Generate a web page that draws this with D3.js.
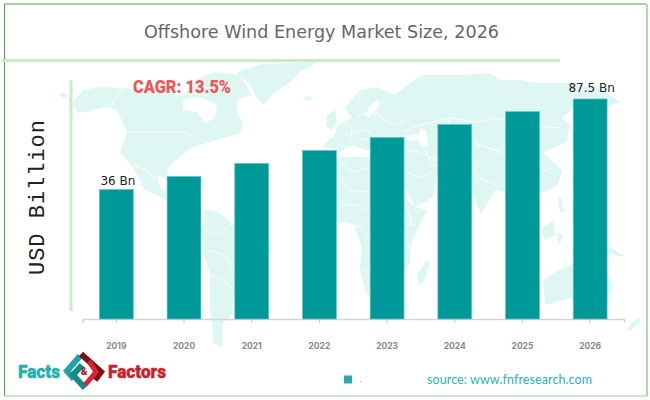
<!DOCTYPE html>
<html>
<head>
<meta charset="utf-8">
<script src="https://cdn.jsdelivr.net/npm/d3@7"></script>
<style>
  body { margin: 0; background: #fff; }
</style>
</head>
<body>
<div id="chart"></div>
<script>
// chart data
const years = ["2019", "2020", "2021", "2022", "2023", "2024", "2025", "2026"];
const marketSize = [36, 43.4, 50.8, 58.2, 65.6, 73, 80.3, 87.5];
const labelled = { "2019": "36 Bn", "2026": "87.5 Bn" };
const labelGap = { "2019": 4.5, "2026": 7 };

// background world map, rough outlines traced in picture pixels (decoration only)
const mapLand = [
  // north america
  [[72,103],[83,90],[100,87],[123,88],[150,90],[183,96],[195,80],[215,72],[240,75],[252,95],[237,100],[237,112],[243,125],[240,133],[223,138],[200,145],[193,147],[173,162],[167,170],[170,185],[165,178],[157,175],[160,188],[172,195],[200,208],[167,200],[145,190],[133,167],[120,152],[127,133],[118,112],[108,107],[78,113]],
  [[59,95],[64,92],[68,96],[63,98]],
  // greenland
  [[237,72],[262,64],[317,62],[300,72],[290,82],[275,92],[263,105],[255,95],[250,85]],
  [[302,98],[308,96],[314,98],[308,101]],
  // south america
  [[205,210],[218,212],[230,222],[250,232],[272,248],[268,258],[250,272],[240,290],[233,300],[232,313],[223,323],[222,347],[213,343],[212,325],[210,307],[210,273],[202,250],[202,228]],
  // eurasia
  [[322,146],[335,135],[338,125],[352,118],[345,108],[360,90],[377,87],[395,95],[417,78],[423,75],[457,75],[490,73],[500,80],[520,80],[537,83],[567,83],[600,88],[620,102],[607,107],[573,108],[562,118],[570,125],[567,142],[553,148],[543,152],[553,162],[562,170],[558,185],[545,192],[525,195],[515,215],[505,192],[495,190],[481,214],[471,190],[462,172],[448,168],[437,178],[432,198],[415,207],[395,165],[385,150],[365,150],[352,145],[340,152]],
  // britain
  [[327,115],[335,110],[337,122],[332,130],[326,126]],
  // africa
  [[320,165],[340,157],[365,157],[390,167],[407,200],[415,207],[427,210],[412,240],[410,262],[395,285],[372,297],[366,293],[360,270],[362,247],[353,224],[337,222],[322,205],[318,185]],
  // madagascar
  [[427,260],[430,264],[424,282],[418,285],[417,275]],
  // australia
  [[543,280],[555,272],[572,264],[590,262],[605,270],[613,285],[607,302],[585,306],[570,298],[545,305]],
  // islands
  [[541,228],[553,221],[555,235],[545,240]],
  [[558,232],[563,236],[560,244],[557,240]],
  [[558,197],[561,197],[563,208],[566,212],[560,212]],
  [[607,246],[615,250],[625,256],[618,256],[607,253]],
  [[627,328],[632,322],[640,318],[641,322],[630,331]],
  [[510,232],[524,248],[520,250],[507,236]],
];
const mapHoles = [
  // hudson bay
  [[183,100],[200,97],[217,104],[215,118],[205,123],[197,112],[183,110]],
  // baltic
  [[371,105],[378,100],[380,104],[374,112],[368,118],[365,114]],
  // caspian
  [[420,128],[426,130],[428,146],[422,148],[418,140]],
  // black sea
  [[405,136],[418,134],[420,140],[408,141]],
];
const mapBorders = [
  [[127,132],[185,132],[195,140]],
  [[110,107],[123,88]],
  [[110,107],[120,115]],
  [[133,165],[145,170],[155,178]],
  [[205,230],[218,235],[232,224]],
  [[210,250],[225,255],[232,270]],
  [[210,275],[222,280],[235,290]],
  [[345,135],[360,130],[372,132]],
  [[355,118],[372,110],[385,120],[395,125],[405,120]],
  [[360,140],[375,138],[390,142]],
  [[403,132],[420,125],[450,118],[475,122],[495,118],[520,125],[560,128]],
  [[405,150],[420,152],[435,160],[450,162],[470,165]],
  [[450,118],[445,132],[465,140],[495,150],[520,160]],
  [[339,175],[350,190],[368,192]],
  [[340,205],[358,205],[372,215]],
  [[403,195],[412,225]],
  [[362,270],[372,270]],
  [[405,225],[415,225]],
  [[357,100],[365,85]],
  [[340,120],[352,128],[350,142]],
  [[403,170],[420,178],[432,172]],
  [[425,150],[432,165],[445,168]],
  [[338,160],[352,172],[368,168]],
  [[345,222],[360,228],[370,240]],
  [[405,240],[411,250]],
  [[470,165],[480,178],[495,185]],
  [[520,160],[540,172],[552,168]],
  [[495,150],[515,142],[540,150]],
];
const legendDot = "#2aabab";

const width = 650, height = 400;
const svg = d3.select("#chart").append("svg")
  .attr("width", width)
  .attr("height", height)
  .style("display", "block");

// map layer
const outline = d3.line();
const mapG = svg.append("g");
mapG.selectAll("path.land").data(mapLand).enter().append("path")
  .attr("class", "land")
  .attr("d", d => outline(d) + "Z")
  .attr("fill", "#dff7f3");
mapG.selectAll("path.hole").data(mapHoles).enter().append("path")
  .attr("class", "hole")
  .attr("d", d => outline(d) + "Z")
  .attr("fill", "#fff");
mapG.selectAll("path.border").data(mapBorders).enter().append("path")
  .attr("class", "border")
  .attr("d", outline)
  .attr("fill", "none")
  .attr("stroke", "#fff")
  .attr("stroke-width", 0.9);

// frame
const frame = [
  { x1: 4.5, y1: 4, x2: 646, y2: 4, c: "#45a845", w: 1 },
  { x1: 4.5, y1: 4, x2: 4.5, y2: 396, c: "#45a845", w: 1 },
  { x1: 647, y1: 4, x2: 647, y2: 396, c: "#5cb85c", w: 1 },
  { x1: 4.5, y1: 396, x2: 647, y2: 396, c: "#93d693", w: 1 },
  { x1: 2, y1: 60.5, x2: 560, y2: 60.5, c: "#c6edc6", w: 3 },
  { x1: 71, y1: 80, x2: 71, y2: 311, c: "#c6edc6", w: 3 },
];
svg.selectAll("line.frame").data(frame).enter().append("line")
  .attr("class", "frame")
  .attr("x1", d => d.x1).attr("y1", d => d.y1)
  .attr("x2", d => d.x2).attr("y2", d => d.y2)
  .attr("stroke", d => d.c)
  .attr("stroke-width", d => d.w);

svg.append("text")
  .attr("x", 144).attr("y", 38)
  .attr("textLength", 355)
  .attr("lengthAdjust", "spacingAndGlyphs")
  .style("font-family", "'DejaVu Sans', sans-serif")
  .style("font-size", "18px")
  .style("fill", "#666")
  .text("Offshore Wind Energy Market Size, 2026");

// scales: the bars in the picture do not start from zero, so the domain runs below it
const x = d3.scaleBand().domain(years).range([82.5, 624]).paddingInner(0.5).paddingOuter(0.25);
const y = d3.scaleLinear().domain([-37.7, 87.5]).range([319, 99]);

const xAxis = svg.append("g")
  .attr("transform", "translate(0,319)")
  .call(d3.axisBottom(x).tickSize(4).tickPadding(19.5));
xAxis.select(".domain").attr("stroke", "#d5d5d5").attr("stroke-width", 1.5);
xAxis.selectAll(".tick line").attr("stroke", "#c8c8c8");
xAxis.selectAll("text")
  .style("font-family", "Inter, sans-serif")
  .style("font-size", "8.5px")
  .style("font-weight", "700")
  .style("fill", "#888");

svg.selectAll("rect.bar")
  .data(years)
  .enter()
  .append("rect")
  .attr("class", "bar")
  .attr("x", d => x(d))
  .attr("y", (d, i) => y(marketSize[i]))
  .attr("width", x.bandwidth())
  .attr("height", (d, i) => 319 - y(marketSize[i]))
  .style("fill", "#009999")
  .style("stroke", "#62c4c2")
  .style("stroke-width", 0.7);

svg.selectAll("text.val")
  .data(years.filter(d => labelled[d]))
  .enter()
  .append("text")
  .attr("class", "val")
  .attr("x", d => x(d) + x.bandwidth() / 2 + 1.5)
  .attr("y", d => y(marketSize[years.indexOf(d)]) - labelGap[d])
  .style("text-anchor", "middle")
  .style("font-family", "'DejaVu Sans', sans-serif")
  .style("font-size", "12px")
  .style("fill", "#222")
  .text(d => labelled[d]);

svg.append("text")
  .attr("x", 133).attr("y", 93)
  .attr("textLength", 98)
  .attr("lengthAdjust", "spacingAndGlyphs")
  .style("font-family", "Roboto, sans-serif")
  .style("font-size", "18.5px")
  .style("font-weight", "900")
  .style("fill", "#f0555a")
  .text("CAGR: 13.5%");

svg.append("text")
  .attr("transform", "translate(43.5,275) rotate(-90)")
  .attr("textLength", 155)
  .attr("lengthAdjust", "spacing")
  .style("font-family", "'Liberation Mono', monospace")
  .style("font-size", "22px")
  .style("fill", "#222")
  .text("USD Billion");

// legend and source
svg.append("rect")
  .attr("x", 344).attr("y", 375.5)
  .attr("width", 8).attr("height", 8)
  .style("fill", legendDot);
svg.append("circle")
  .attr("cx", 360.5).attr("cy", 381.5).attr("r", 0.5)
  .style("fill", "#999");
svg.append("text")
  .attr("x", 427).attr("y", 384)
  .attr("textLength", 165)
  .attr("lengthAdjust", "spacing")
  .style("font-family", "Lato, sans-serif")
  .style("font-size", "12.5px")
  .style("fill", "#27b3c4")
  .text("source: www.fnfresearch.com");

// logo
const logoText = [
  { t: "Facts", x: 18, len: 42, c: "#22b0ae" },
  { t: "Factors", x: 108, len: 58, c: "#cc1f2d" },
];
svg.selectAll("text.logo").data(logoText).enter().append("text")
  .attr("class", "logo")
  .attr("x", d => d.x).attr("y", 378)
  .attr("textLength", d => d.len)
  .attr("lengthAdjust", "spacingAndGlyphs")
  .style("font-family", "Roboto, sans-serif")
  .style("font-size", "18px")
  .style("font-weight", "900")
  .style("fill", d => d.c)
  .style("stroke", d => d.c)
  .style("stroke-width", 0.4)
  .text(d => d.t);

const logoMarks = [
  { p: [[80,356],[67,371],[74,379]], c: "#1fa5a3", w: 6 },
  { p: [[82,365],[73,375],[85,388]], c: "#158c8a", w: 6 },
  { p: [[81,354],[101,372],[95,380]], c: "#7c1014", w: 6 },
  { p: [[89,361],[96,372],[85,385]], c: "#d9252f", w: 5 },
];
svg.selectAll("path.logoMark").data(logoMarks).enter().append("path")
  .attr("class", "logoMark")
  .attr("d", d => outline(d.p))
  .attr("fill", "none")
  .attr("stroke", d => d.c)
  .attr("stroke-width", d => d.w);
svg.append("text")
  .attr("x", 84).attr("y", 375)
  .style("text-anchor", "middle")
  .style("font-family", "Roboto, sans-serif")
  .style("font-size", "10px")
  .style("font-weight", "900")
  .style("fill", "#b01c28")
  .text("&");
</script>
</body>
</html>
